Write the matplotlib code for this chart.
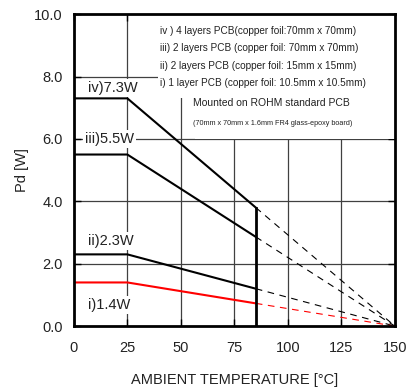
import matplotlib
matplotlib.use("Agg")
import matplotlib.pyplot as plt
from matplotlib.patches import Rectangle

plt.rcParams["font.family"] = ["Liberation Sans", "DejaVu Sans"]

# derating curves: ambient temperature [C] vs Pd [W]
temp_solid = [0, 25, 85]
temp_dash = [85, 150]
pd_iv = [7.3, 7.3, 3.8]
pd_iii = [5.5, 5.5, 2.86]
pd_ii = [2.3, 2.3, 1.2]
pd_i = [1.4, 1.4, 0.73]
pd_end = [0.0]

curve_labels = ["iv)7.3W", "iii)5.5W", "ii)2.3W", "i)1.4W"]
curve_label_y = [7.63, 6.0, 2.72, 0.67]

legend_lines = [
    "iv ) 4 layers PCB(copper foil:70mm x 70mm)",
    "iii) 2 layers PCB (copper foil: 70mm x 70mm)",
    "ii) 2 layers PCB (copper foil: 15mm x 15mm)",
    "i) 1 layer PCB (copper foil: 10.5mm x 10.5mm)",
]
note_main = "Mounted on ROHM standard PCB"
note_small = "(70mm x 70mm x 1.6mm FR4 glass-epoxy board)"

xticks = [0, 25, 50, 75, 100, 125, 150]
yticks = [0.0, 2.0, 4.0, 6.0, 8.0, 10.0]

TXT = "#222222"

fig = plt.figure(figsize=(4.08, 3.92), dpi=100)
ax = fig.add_axes([0.181, 0.168, 0.787, 0.796])
ax.set_xlim(0, 150)
ax.set_ylim(0, 10)

# grid
for xv in xticks[1:-1]:
    ax.axvline(xv, color="#404040", lw=0.9, zorder=1)
for yv in yticks[1:-1]:
    ax.axhline(yv, color="#404040", lw=0.9, zorder=1)

# white area behind the notes
ax.add_patch(Rectangle((39.5, 7.3), 111, 3, facecolor="white", edgecolor="none", zorder=2))
ax.add_patch(Rectangle((56.5, 6.0), 94, 1.4, facecolor="white", edgecolor="none", zorder=2))

series = [(pd_iv, "black"), (pd_iii, "black"), (pd_ii, "black"), (pd_i, "red")]
for vals, col in series:
    ax.plot(temp_solid, vals, color=col, lw=1.5, zorder=4)
    ax.plot(temp_dash, [vals[-1]] + pd_end, color=col, lw=0.8,
            dashes=(6, 5), zorder=4)

# Tj max line
ax.plot([85, 85], [0, pd_iv[-1]], color="black", lw=2.0, zorder=4)

for lab, yv in zip(curve_labels, curve_label_y):
    x0 = 5.0 if lab.startswith("iii") else 6.5
    ax.text(x0, yv, lab, fontsize=10.5, va="center", ha="left", zorder=5,
            color=TXT, bbox=dict(facecolor="white", edgecolor="none", pad=1.5))

leg_y = [9.45, 8.91, 8.33, 7.79]
for txt, yv in zip(legend_lines, leg_y):
    ax.text(40.2, yv, txt, fontsize=7.2, va="center", ha="left", zorder=5, color=TXT)
ax.text(55.6, 7.15, note_main, fontsize=7.5, va="center", ha="left", zorder=5, color=TXT)
ax.text(55.6, 6.5, note_small, fontsize=5.2, va="center", ha="left", zorder=5, color=TXT)

ax.set_xticks(xticks)
ax.set_yticks(yticks)
ax.set_yticklabels([f"{v:.1f}" for v in yticks])
ax.tick_params(direction="in", length=5, width=1, top=True, right=True,
               labelsize=10.5, colors="black", labelcolor=TXT)
ax.tick_params(axis="x", pad=11)
ax.tick_params(axis="y", pad=8)
for s in ax.spines.values():
    s.set_linewidth(2.0)
    s.set_zorder(6)

ax.set_xlabel("AMBIENT TEMPERATURE [°C]", fontsize=10.5, labelpad=13, color=TXT)
ax.set_ylabel("Pd [W]", fontsize=10.5, labelpad=4, color=TXT)

fig.savefig("out.png", dpi=100)
